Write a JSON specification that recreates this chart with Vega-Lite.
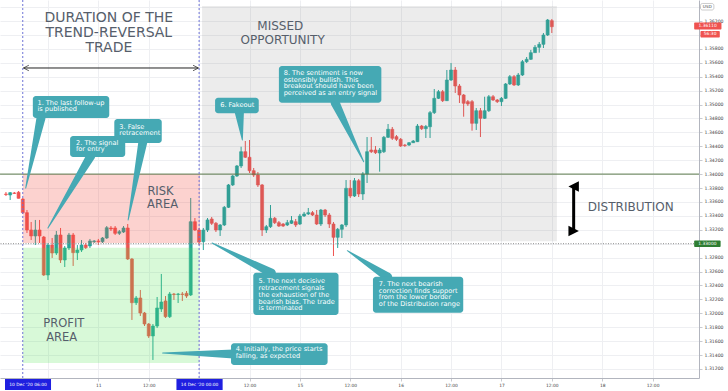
{
 "$schema": "https://vega.github.io/schema/vega-lite/v6.json",
 "width": 699, "height": 378,
 "autosize": {"type": "none"},
 "padding": {"left": 0, "top": 0, "right": 29, "bottom": 13},
 "background": "white",
 "config": {"view": {"stroke": null}, "font": "DejaVu Sans",
            "axis": {"labelOverlap": false, "labelBound": false}},
 "datasets": {
  "candles": [
{"i":-4,"o":1.33714,"h":1.33743,"l":1.33685,"c":1.33707},
{"i":-3,"o":1.33700,"h":1.33743,"l":1.33628,"c":1.33733},
{"i":-2,"o":1.33729,"h":1.33743,"l":1.33714,"c":1.33722},
{"i":-1,"o":1.33739,"h":1.33757,"l":1.33650,"c":1.33652},
{"i":0,"o":1.33642,"h":1.33657,"l":1.33427,"c":1.33446},
{"i":1,"o":1.33446,"h":1.33484,"l":1.33154,"c":1.33197},
{"i":2,"o":1.33197,"h":1.33312,"l":1.33053,"c":1.33111},
{"i":3,"o":1.33111,"h":1.33341,"l":1.32981,"c":1.33197},
{"i":4,"o":1.33197,"h":1.33341,"l":1.33010,"c":1.33111},
{"i":5,"o":1.33096,"h":1.33111,"l":1.32536,"c":1.32550},
{"i":6,"o":1.32550,"h":1.33010,"l":1.32478,"c":1.32981},
{"i":7,"o":1.32981,"h":1.33082,"l":1.32795,"c":1.32866},
{"i":8,"o":1.32866,"h":1.33183,"l":1.32838,"c":1.33125},
{"i":9,"o":1.33125,"h":1.33226,"l":1.32723,"c":1.32766},
{"i":10,"o":1.32766,"h":1.32967,"l":1.32665,"c":1.32938},
{"i":11,"o":1.32938,"h":1.33154,"l":1.32909,"c":1.33125},
{"i":12,"o":1.33125,"h":1.33154,"l":1.32680,"c":1.32871},
{"i":13,"o":1.32871,"h":1.32981,"l":1.32766,"c":1.32909},
{"i":14,"o":1.32909,"h":1.33053,"l":1.32881,"c":1.32981},
{"i":15,"o":1.32981,"h":1.33010,"l":1.32924,"c":1.32943},
{"i":16,"o":1.32967,"h":1.33068,"l":1.32938,"c":1.33039},
{"i":17,"o":1.33029,"h":1.33053,"l":1.33010,"c":1.33039},
{"i":18,"o":1.33039,"h":1.33068,"l":1.32981,"c":1.33029},
{"i":19,"o":1.33029,"h":1.33096,"l":1.33010,"c":1.33082},
{"i":20,"o":1.33082,"h":1.33254,"l":1.33068,"c":1.33230},
{"i":21,"o":1.33226,"h":1.33254,"l":1.33183,"c":1.33211},
{"i":22,"o":1.33226,"h":1.33254,"l":1.33125,"c":1.33149},
{"i":23,"o":1.33149,"h":1.33197,"l":1.33125,"c":1.33173},
{"i":24,"o":1.33168,"h":1.33254,"l":1.33154,"c":1.33226},
{"i":25,"o":1.33226,"h":1.33283,"l":1.32766,"c":1.32780},
{"i":26,"o":1.32780,"h":1.32795,"l":1.31904,"c":1.32152},
{"i":27,"o":1.32152,"h":1.32248,"l":1.32119,"c":1.32220},
{"i":28,"o":1.32220,"h":1.32335,"l":1.31961,"c":1.32004},
{"i":29,"o":1.32004,"h":1.32019,"l":1.31817,"c":1.31846},
{"i":30,"o":1.31846,"h":1.31860,"l":1.31645,"c":1.31674},
{"i":31,"o":1.31674,"h":1.31846,"l":1.31329,"c":1.31817},
{"i":32,"o":1.31817,"h":1.32234,"l":1.31789,"c":1.32076},
{"i":33,"o":1.32062,"h":1.32565,"l":1.32019,"c":1.32162},
{"i":34,"o":1.32177,"h":1.32248,"l":1.31932,"c":1.31951},
{"i":35,"o":1.31951,"h":1.32306,"l":1.31932,"c":1.32277},
{"i":36,"o":1.32277,"h":1.32292,"l":1.32192,"c":1.32270},
{"i":37,"o":1.32270,"h":1.32292,"l":1.32148,"c":1.32277},
{"i":38,"o":1.32277,"h":1.32306,"l":1.32177,"c":1.32270},
{"i":39,"o":1.32287,"h":1.32320,"l":1.32220,"c":1.32248},
{"i":40,"o":1.32263,"h":1.33657,"l":1.32248,"c":1.33316},
{"i":41,"o":1.33316,"h":1.33369,"l":1.33183,"c":1.33197},
{"i":42,"o":1.33197,"h":1.33226,"l":1.32981,"c":1.33024},
{"i":43,"o":1.33029,"h":1.33226,"l":1.32909,"c":1.33197},
{"i":44,"o":1.33197,"h":1.33369,"l":1.33168,"c":1.33341},
{"i":45,"o":1.33355,"h":1.33384,"l":1.33269,"c":1.33293},
{"i":46,"o":1.33293,"h":1.33312,"l":1.33168,"c":1.33197},
{"i":47,"o":1.33197,"h":1.33283,"l":1.33111,"c":1.33269},
{"i":48,"o":1.33269,"h":1.33542,"l":1.33254,"c":1.33523},
{"i":49,"o":1.33523,"h":1.33858,"l":1.33513,"c":1.33844},
{"i":50,"o":1.33844,"h":1.33987,"l":1.33829,"c":1.33973},
{"i":51,"o":1.33973,"h":1.34131,"l":1.33959,"c":1.34117},
{"i":52,"o":1.34117,"h":1.34394,"l":1.34088,"c":1.34322},
{"i":53,"o":1.34322,"h":1.34476,"l":1.34232,"c":1.34242},
{"i":54,"o":1.34242,"h":1.34490,"l":1.34016,"c":1.34049},
{"i":55,"o":1.34049,"h":1.34088,"l":1.33959,"c":1.33987},
{"i":56,"o":1.33987,"h":1.34030,"l":1.33815,"c":1.33844},
{"i":57,"o":1.33844,"h":1.33858,"l":1.33111,"c":1.33197},
{"i":58,"o":1.33197,"h":1.33269,"l":1.33154,"c":1.33244},
{"i":59,"o":1.33244,"h":1.33556,"l":1.33226,"c":1.33365},
{"i":60,"o":1.33365,"h":1.33384,"l":1.33283,"c":1.33302},
{"i":61,"o":1.33302,"h":1.33326,"l":1.33240,"c":1.33254},
{"i":62,"o":1.33283,"h":1.33297,"l":1.33240,"c":1.33254},
{"i":63,"o":1.33269,"h":1.33341,"l":1.33254,"c":1.33302},
{"i":64,"o":1.33293,"h":1.33398,"l":1.33283,"c":1.33331},
{"i":65,"o":1.33316,"h":1.33355,"l":1.33240,"c":1.33269},
{"i":66,"o":1.33283,"h":1.33427,"l":1.33269,"c":1.33398},
{"i":67,"o":1.33398,"h":1.33456,"l":1.33384,"c":1.33427},
{"i":68,"o":1.33427,"h":1.33513,"l":1.33412,"c":1.33446},
{"i":69,"o":1.33446,"h":1.33470,"l":1.33398,"c":1.33412},
{"i":70,"o":1.33412,"h":1.33484,"l":1.33269,"c":1.33283},
{"i":71,"o":1.33283,"h":1.33499,"l":1.33254,"c":1.33484},
{"i":72,"o":1.33484,"h":1.33499,"l":1.33384,"c":1.33412},
{"i":73,"o":1.33412,"h":1.33441,"l":1.33226,"c":1.33283},
{"i":74,"o":1.33283,"h":1.33312,"l":1.32823,"c":1.33092},
{"i":75,"o":1.33092,"h":1.33226,"l":1.32938,"c":1.33207},
{"i":76,"o":1.33207,"h":1.33283,"l":1.33082,"c":1.33269},
{"i":77,"o":1.33269,"h":1.33915,"l":1.33240,"c":1.33796},
{"i":78,"o":1.33796,"h":1.33915,"l":1.33657,"c":1.33685},
{"i":79,"o":1.33685,"h":1.33944,"l":1.33671,"c":1.33905},
{"i":80,"o":1.33905,"h":1.33930,"l":1.33671,"c":1.33714},
{"i":81,"o":1.33714,"h":1.34030,"l":1.33628,"c":1.34002},
{"i":82,"o":1.34002,"h":1.34533,"l":1.33872,"c":1.34322},
{"i":83,"o":1.34346,"h":1.34533,"l":1.34303,"c":1.34322},
{"i":84,"o":1.34346,"h":1.34404,"l":1.34289,"c":1.34308},
{"i":85,"o":1.34303,"h":1.34375,"l":1.34035,"c":1.34346},
{"i":86,"o":1.34322,"h":1.34548,"l":1.34303,"c":1.34529},
{"i":87,"o":1.34529,"h":1.34720,"l":1.34519,"c":1.34644},
{"i":88,"o":1.34644,"h":1.34677,"l":1.34490,"c":1.34515},
{"i":89,"o":1.34538,"h":1.34562,"l":1.34476,"c":1.34500},
{"i":90,"o":1.34500,"h":1.34519,"l":1.34390,"c":1.34404},
{"i":91,"o":1.34418,"h":1.34433,"l":1.34390,"c":1.34411},
{"i":92,"o":1.34418,"h":1.34461,"l":1.34404,"c":1.34451},
{"i":93,"o":1.34451,"h":1.34490,"l":1.34447,"c":1.34476},
{"i":94,"o":1.34466,"h":1.34720,"l":1.34461,"c":1.34691},
{"i":95,"o":1.34691,"h":1.34706,"l":1.34634,"c":1.34653},
{"i":96,"o":1.34653,"h":1.34706,"l":1.34519,"c":1.34684},
{"i":97,"o":1.34681,"h":1.34907,"l":1.34519,"c":1.34883},
{"i":98,"o":1.34883,"h":1.35223,"l":1.34864,"c":1.35089},
{"i":99,"o":1.35089,"h":1.35209,"l":1.35079,"c":1.35184},
{"i":100,"o":1.35184,"h":1.35209,"l":1.35036,"c":1.35055},
{"i":101,"o":1.35055,"h":1.35496,"l":1.35051,"c":1.35352},
{"i":102,"o":1.35352,"h":1.35597,"l":1.35338,"c":1.35496},
{"i":103,"o":1.35496,"h":1.35539,"l":1.35166,"c":1.35266},
{"i":104,"o":1.35266,"h":1.35295,"l":1.35022,"c":1.35137},
{"i":105,"o":1.35137,"h":1.35151,"l":1.34825,"c":1.35018},
{"i":106,"o":1.35041,"h":1.35065,"l":1.34979,"c":1.35008},
{"i":107,"o":1.35041,"h":1.35065,"l":1.34624,"c":1.34730},
{"i":108,"o":1.34730,"h":1.34950,"l":1.34634,"c":1.34911},
{"i":109,"o":1.34911,"h":1.34950,"l":1.34533,"c":1.34802},
{"i":110,"o":1.34802,"h":1.35112,"l":1.34792,"c":1.34911},
{"i":111,"o":1.34911,"h":1.35137,"l":1.34893,"c":1.35112},
{"i":112,"o":1.35112,"h":1.35137,"l":1.35051,"c":1.35065},
{"i":113,"o":1.35065,"h":1.35079,"l":1.35022,"c":1.35041},
{"i":114,"o":1.35041,"h":1.35108,"l":1.34979,"c":1.35089},
{"i":115,"o":1.35089,"h":1.35309,"l":1.35079,"c":1.35295},
{"i":116,"o":1.35295,"h":1.35424,"l":1.35281,"c":1.35400},
{"i":117,"o":1.35400,"h":1.35424,"l":1.35266,"c":1.35281},
{"i":118,"o":1.35281,"h":1.35453,"l":1.35266,"c":1.35424},
{"i":119,"o":1.35424,"h":1.35640,"l":1.35410,"c":1.35615},
{"i":120,"o":1.35615,"h":1.35683,"l":1.35597,"c":1.35650},
{"i":121,"o":1.35650,"h":1.35784,"l":1.35640,"c":1.35745},
{"i":122,"o":1.35745,"h":1.35855,"l":1.35745,"c":1.35822},
{"i":123,"o":1.35822,"h":1.35898,"l":1.35745,"c":1.35865},
{"i":124,"o":1.35865,"h":1.36028,"l":1.35812,"c":1.35999},
{"i":125,"o":1.35999,"h":1.36229,"l":1.35985,"c":1.36215},
{"i":126,"o":1.36205,"h":1.36229,"l":1.36028,"c":1.36118}
  ],
  "pointers": [
   {"id":1,"end":"base","i":4.34,"p":1.34806},{"id":1,"end":"tip","i":0.7,"p":1.33800},
   {"id":2,"end":"base","i":16.2,"p":1.34260},{"id":2,"end":"tip","i":5.99,"p":1.33226},
   {"id":3,"end":"base","i":28.6,"p":1.34461},{"id":3,"end":"tip","i":25.1,"p":1.33341},
   {"id":4,"end":"base","i":50.2,"p":1.31415},{"id":4,"end":"tip","i":33.3,"p":1.31429},
   {"id":5,"end":"base","i":59.2,"p":1.32579},{"id":5,"end":"tip","i":45.1,"p":1.33010},
   {"id":6,"end":"base","i":51.6,"p":1.34878},{"id":6,"end":"tip","i":52.3,"p":1.34490},
   {"id":7,"end":"base","i":86.9,"p":1.32522},{"id":7,"end":"tip","i":77.3,"p":1.32900},
   {"id":8,"end":"base","i":74.4,"p":1.35026},{"id":8,"end":"tip","i":81.2,"p":1.34178}
  ],
  "boxes": [
   {"id":1,"i":2.4,"i2":20.6,"p":1.35122,"p2":1.34806},
   {"id":2,"i":11.27,"i2":24.4,"p":1.34548,"p2":1.34246},
   {"id":3,"i":21.8,"i2":33.1,"p":1.34792,"p2":1.34447},
   {"id":4,"i":49.6,"i2":72.6,"p":1.31569,"p2":1.31257},
   {"id":5,"i":54.9,"i2":75.2,"p":1.32583,"p2":1.31975},
   {"id":6,"i":45.8,"i2":56.2,"p":1.35098,"p2":1.34874},
   {"id":7,"i":83.4,"i2":104.9,"p":1.32526,"p2":1.32008},
   {"id":8,"i":61.0,"i2":85.4,"p":1.35554,"p2":1.35026}
  ],
  "notes": [
   {"i":3.5,"p":1.35072,"t":"1. The last follow-up\nis published"},
   {"i":12.68,"p":1.34497,"t":"2. The signal\nfor entry"},
   {"i":23.0,"p":1.34727,"t":"3. False\nretracement"},
   {"i":50.7,"p":1.31523,"t":"4. Initially, the price starts\nfalling, as expected"},
   {"i":56.17,"p":1.32504,"t":"5. The next decisive\nretracement signals\nthe exhaustion of the\nbearish bias. The trade\nis terminated"},
   {"i":47.02,"p":1.35033,"t":"6. Fakeout"},
   {"i":84.81,"p":1.32467,"t":"7. The next bearish\ncorrection finds support\nfrom the lower border\nof the Distribution range"},
   {"i":62.14,"p":1.35499,"t":"8. The sentiment is now\nostensibly bullish. This\nbreakout should have been\nperceived as an entry signal"}
  ]
 },
 "layer": [
  {"data": {"name": "candles"},
   "mark": {"type": "rule", "strokeWidth": 1},
   "encoding": {
    "x": {"field": "i", "type": "quantitative", "title": null,
          "scale": {"domain": [-4.23, 159.86], "nice": false, "zero": false},
          "axis": {"values": [6,18,30,42,54,66,78,90,102,114,126,138,150], "tickCount": 40,
                   "labelExpr": "datum.value==18?'11':datum.value==66?'15':datum.value==90?'16':datum.value==114?'17':datum.value==138?'18':(datum.value==42||datum.value==6)?'':'12:00'",
                   "labelFontSize": 4.4, "labelColor": "#444444", "tickSize": 3, "tickColor": "#C8CAD0", "labelOverlap": false,
                   "domainColor": "#B2B5BE", "gridColor": "#EEEFF2", "grid": true, "labelPadding": 2}},
    "y": {"field": "l", "type": "quantitative", "title": null,
          "scale": {"domain": [1.3107, 1.36502], "nice": false, "zero": false},
          "axis": {"orient": "right", "tickCount": 60, "values": [1.312,1.314,1.316,1.318,1.32,1.322,1.324,1.326,1.328,1.33,1.332,1.334,1.336,1.338,1.34,1.342,1.344,1.346,1.348,1.35,1.352,1.354,1.356,1.358,1.36,1.362,1.364],
                   "labelExpr": "(datum.value==1.36||datum.value==1.364||datum.value==1.33)?'':format(datum.value,'.5f')",
                   "labelFontSize": 4.6, "labelColor": "#444444", "tickSize": 3, "tickColor": "#C8CAD0", "labelOverlap": false,
                   "domainColor": "#B2B5BE", "gridColor": "#EEEFF2", "grid": true, "labelPadding": 2}},
    "y2": {"field": "h"},
    "color": {"condition": {"test": "datum.c >= datum.o", "value": "#26A69A"}, "value": "#EF5350"}
   }},
  {"data": {"name": "candles"},
   "mark": {"type": "bar", "size": 3, "strokeWidth": 0.6},
   "encoding": {
    "x": {"field": "i", "type": "quantitative", "title": null},
    "y": {"field": "o", "type": "quantitative", "title": null},
    "y2": {"field": "c"},
    "color": {"condition": {"test": "datum.c >= datum.o", "value": "#26A69A"}, "value": "#EF5350"},
    "stroke": {"condition": {"test": "datum.c >= datum.o", "value": "#26A69A"}, "value": "#EF5350"}
   }},
  {"data": {"values": [{"i": 0, "i2": 42.2, "p": 1.34, "p2": 1.3301}]},
   "mark": {"type": "rect", "color": "#F44336", "opacity": 0.24},
   "encoding": {"x": {"field": "i", "type": "quantitative", "title": null}, "x2": {"field": "i2"},
                "y": {"field": "p", "type": "quantitative", "title": null}, "y2": {"field": "p2"}}},
  {"data": {"values": [{"i": 0, "i2": 42.0, "p": 1.32943, "p2": 1.31286}]},
   "mark": {"type": "rect", "color": "#4CE44C", "opacity": 0.22},
   "encoding": {"x": {"field": "i", "type": "quantitative", "title": null}, "x2": {"field": "i2"},
                "y": {"field": "p", "type": "quantitative", "title": null}, "y2": {"field": "p2"}}},
  {"data": {"values": [{"i": 42.7, "i2": 127.2, "p": 1.36416, "p2": 1.33035}]},
   "mark": {"type": "rect", "color": "#787878", "opacity": 0.14},
   "encoding": {"x": {"field": "i", "type": "quantitative", "title": null}, "x2": {"field": "i2"},
                "y": {"field": "p", "type": "quantitative", "title": null}, "y2": {"field": "p2"}}},
  {"data": {"values": [{"p": 1.34}]},
   "mark": {"type": "rule", "color": "#5B7A4B", "strokeWidth": 1},
   "encoding": {"y": {"field": "p", "type": "quantitative", "title": null}}},
  {"data": {"values": [{"p": 1.33}]},
   "mark": {"type": "rule", "color": "#8C8C8C", "strokeWidth": 1, "strokeDash": [1, 1.5]},
   "encoding": {"y": {"field": "p", "type": "quantitative", "title": null}}},
  {"data": {"values": [{"i": 0}, {"i": 42}]},
   "mark": {"type": "rule", "color": "#6E73D6", "strokeWidth": 1, "strokeDash": [2, 2]},
   "encoding": {"x": {"field": "i", "type": "quantitative", "title": null}}},
  {"data": {"values": [{"i": 0.2, "i2": 41.8, "p": 1.35525}]},
   "mark": {"type": "rule", "color": "#222222", "strokeWidth": 1},
   "encoding": {"x": {"field": "i", "type": "quantitative", "title": null}, "x2": {"field": "i2"},
                "y": {"field": "p", "type": "quantitative", "title": null}}},
  {"data": {"values": [{"i": 0.8, "p": 1.35525, "dir": "left"}, {"i": 41.2, "p": 1.35525, "dir": "right"}]},
   "mark": {"type": "point", "filled": false, "stroke": "#222222", "strokeWidth": 1, "size": 30},
   "encoding": {"x": {"field": "i", "type": "quantitative", "title": null},
                "y": {"field": "p", "type": "quantitative", "title": null},
                "shape": {"field": "dir", "type": "nominal", "legend": null,
                          "scale": {"domain": ["left", "right"], "range": ["M1,-1L-1,0L1,1", "M-1,-1L1,0L-1,1"]}}}},
  {"data": {"values": [{"i": 131.2, "p": 1.33822, "p2": 1.33183}]},
   "mark": {"type": "rule", "color": "#000000", "strokeWidth": 3},
   "encoding": {"x": {"field": "i", "type": "quantitative", "title": null},
                "y": {"field": "p", "type": "quantitative", "title": null}, "y2": {"field": "p2"}}},
  {"data": {"values": [{"i": 131.2, "p": 1.33822, "dir": "up"}, {"i": 131.2, "p": 1.33183, "dir": "down"}]},
   "mark": {"type": "point", "filled": true, "color": "#000000", "size": 110, "opacity": 1},
   "encoding": {"x": {"field": "i", "type": "quantitative", "title": null},
                "y": {"field": "p", "type": "quantitative", "title": null},
                "shape": {"field": "dir", "type": "nominal", "legend": null,
                          "scale": {"domain": ["up", "down"], "range": ["triangle-up", "triangle-down"]}}}},
  {"data": {"values": [{"i": 20.5, "p": 1.36238, "t": "DURATION OF THE"}, {"i": 20.5, "p": 1.36028, "t": "TREND-REVERSAL"}, {"i": 20.5, "p": 1.35818, "t": "TRADE"}]},
   "mark": {"type": "text", "fontSize": 14, "color": "#565E6B", "align": "center", "baseline": "middle"},
   "encoding": {"x": {"field": "i", "type": "quantitative", "title": null},
                "y": {"field": "p", "type": "quantitative", "title": null}, "text": {"field": "t"}}},
  {"data": {"values": [{"i": 61.34, "p": 1.36125, "t": "MISSED"}, {"i": 61.9, "p": 1.35927, "t": "OPPORTUNITY"}, {"i": 144.8, "p": 1.33527, "t": "DISTRIBUTION"}]},
   "mark": {"type": "text", "fontSize": 12, "color": "#565E6B", "align": "center", "baseline": "middle"},
   "encoding": {"x": {"field": "i", "type": "quantitative", "title": null},
                "y": {"field": "p", "type": "quantitative", "title": null}, "text": {"field": "t"}}},
  {"data": {"values": [{"i": 32.8, "p": 1.33747, "t": "RISK"}, {"i": 33.3, "p": 1.33556, "t": "AREA"}, {"i": 9.79, "p": 1.31842, "t": "PROFIT"}, {"i": 9.27, "p": 1.31649, "t": "AREA"}]},
   "mark": {"type": "text", "fontSize": 11.5, "color": "#565E6B", "align": "center", "baseline": "middle"},
   "encoding": {"x": {"field": "i", "type": "quantitative", "title": null},
                "y": {"field": "p", "type": "quantitative", "title": null}, "text": {"field": "t"}}},
  {"data": {"name": "pointers"},
   "mark": {"type": "trail", "color": "#45A9B4"},
   "encoding": {"x": {"field": "i", "type": "quantitative", "title": null},
                "y": {"field": "p", "type": "quantitative", "title": null},
                "detail": {"field": "id", "type": "nominal"},
                "order": {"field": "end", "type": "ordinal"},
                "size": {"field": "end", "type": "ordinal", "legend": null, "scale": {"domain": ["base", "tip"], "range": [9, 0]}}}},
  {"data": {"name": "boxes"},
   "mark": {"type": "rect", "color": "#45A9B4", "cornerRadius": 3},
   "encoding": {"x": {"field": "i", "type": "quantitative", "title": null}, "x2": {"field": "i2"},
                "y": {"field": "p", "type": "quantitative", "title": null}, "y2": {"field": "p2"}}},
  {"data": {"name": "notes"},
   "mark": {"type": "text", "fontSize": 6.6, "color": "#FFFFFF", "align": "left", "baseline": "top", "lineBreak": "\n", "lineHeight": 6.8},
   "encoding": {"x": {"field": "i", "type": "quantitative", "title": null},
                "y": {"field": "p", "type": "quantitative", "title": null}, "text": {"field": "t"}}},
  {"data": {"values": [{"i": -4.23, "i2": 6.73, "p": 1.31056, "p2": 1.30898}, {"i": 36.6, "i2": 47.6, "p": 1.31056, "p2": 1.30898}]},
   "mark": {"type": "rect", "color": "#1F1FE0", "clip": false},
   "encoding": {"x": {"field": "i", "type": "quantitative", "title": null}, "x2": {"field": "i2"},
                "y": {"field": "p", "type": "quantitative", "title": null}, "y2": {"field": "p2"}}},
  {"data": {"values": [{"i": 159.9, "i2": 166.4, "p": 1.36179, "p2": 1.36078}, {"i": 161.4, "i2": 166.0, "p": 1.36057, "p2": 1.35963}]},
   "mark": {"type": "rect", "color": "#EF5350", "clip": false, "cornerRadius": 1},
   "encoding": {"x": {"field": "i", "type": "quantitative", "title": null}, "x2": {"field": "i2"},
                "y": {"field": "p", "type": "quantitative", "title": null}, "y2": {"field": "p2"}}},
  {"data": {"values": [{"i": 159.9, "i2": 166.2, "p": 1.33047, "p2": 1.32953}]},
   "mark": {"type": "rect", "color": "#2E7D32", "clip": false, "cornerRadius": 1},
   "encoding": {"x": {"field": "i", "type": "quantitative", "title": null}, "x2": {"field": "i2"},
                "y": {"field": "p", "type": "quantitative", "title": null}, "y2": {"field": "p2"}}},
  {"data": {"values": [{"i": 161.4, "i2": 164.6, "p": 1.36452, "p2": 1.36358}]},
   "mark": {"type": "rect", "fill": "#FFFFFF", "stroke": "#AAAAAA", "strokeWidth": 0.6, "clip": false, "cornerRadius": 2},
   "encoding": {"x": {"field": "i", "type": "quantitative", "title": null}, "x2": {"field": "i2"},
                "y": {"field": "p", "type": "quantitative", "title": null}, "y2": {"field": "p2"}}},
  {"data": {"values": [{"i": 1.25, "p": 1.3097, "t": "10 Dec '20  06:00"}, {"i": 42.1, "p": 1.3097, "t": "14 Dec '20  00:00"}, {"i": 163.1, "p": 1.36128, "t": "1.36110"}, {"i": 163.7, "p": 1.3601, "t": "56:30"}, {"i": 163.05, "p": 1.33, "t": "1.33000"}]},
   "mark": {"type": "text", "fontSize": 4.4, "color": "#FFFFFF", "align": "center", "baseline": "middle", "clip": false},
   "encoding": {"x": {"field": "i", "type": "quantitative", "title": null},
                "y": {"field": "p", "type": "quantitative", "title": null}, "text": {"field": "t"}}},
  {"data": {"values": [{"i": 163.0, "p": 1.36405, "t": "USD"}]},
   "mark": {"type": "text", "fontSize": 4.2, "color": "#444444", "align": "center", "baseline": "middle", "clip": false},
   "encoding": {"x": {"field": "i", "type": "quantitative", "title": null},
                "y": {"field": "p", "type": "quantitative", "title": null}, "text": {"field": "t"}}}
 ]
}
